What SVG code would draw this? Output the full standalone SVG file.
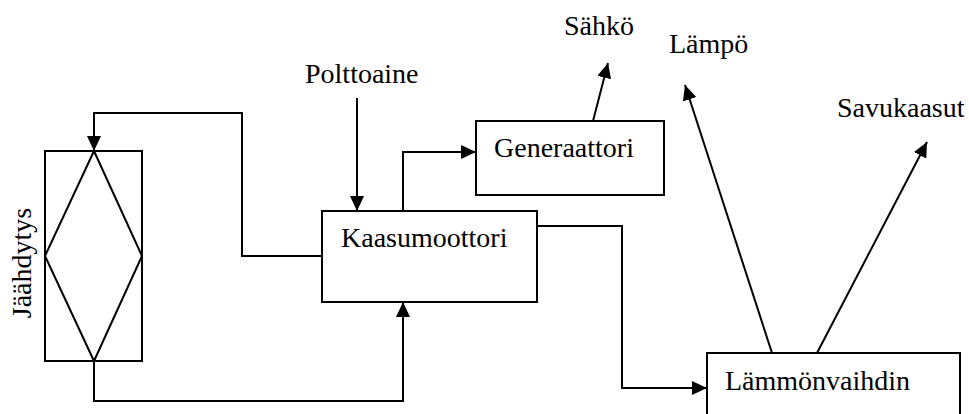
<svg xmlns="http://www.w3.org/2000/svg" width="969" height="414" viewBox="0 0 969 414">
<defs>
<style>
.box{fill:none;stroke:#000;stroke-width:2}
.ln{fill:none;stroke:#000;stroke-width:2}
.arr{marker-end:url(#ah)}
text{font-family:"Liberation Serif","Times New Roman",serif;font-size:28px;fill:#000}
</style>
<marker id="ah" markerUnits="userSpaceOnUse" markerWidth="15" markerHeight="14" refX="15" refY="7" orient="auto">
<path d="M0,0 L15,7 L0,14 z" fill="#000"/>
</marker>
</defs>
<rect width="969" height="414" fill="#fff"/>
<g id="jaahdytys">
<rect class="box" x="45" y="151" width="97" height="210"/>
<path class="ln" d="M94,151 L142,256 L94,361 L45,256 Z"/>
<text transform="translate(31,263) rotate(-90)" text-anchor="middle">Jäähdytys</text>
</g>
<g id="kaasumoottori">
<rect class="box" x="322" y="211" width="215" height="91"/>
<text x="341" y="247">Kaasumoottori</text>
</g>
<g id="generaattori">
<rect class="box" x="476" y="121" width="188" height="74"/>
<text x="494" y="157">Generaattori</text>
</g>
<g id="lammonvaihdin">
<rect class="box" x="707" y="353" width="253" height="80"/>
<text x="725" y="390">Lämmönvaihdin</text>
</g>
<g id="labels">
<text x="305" y="83">Polttoaine</text>
<text x="564" y="35">Sähkö</text>
<text x="669" y="53">Lämpö</text>
<text x="837" y="117">Savukaasut</text>
</g>
<g id="connectors">
<path class="ln arr" d="M357,98 L357,211"/>
<path class="ln arr" d="M403,211 L403,152 L476,152"/>
<path class="ln arr" d="M322,256 L242,256 L242,113 L94,113 L94,151"/>
<path class="ln arr" d="M94,361 L94,401 L403,401 L403,302"/>
<path class="ln arr" d="M537,226 L622,226 L622,388 L707,388"/>
<path class="ln arr" d="M593,121 L608,63"/>
<path class="ln arr" d="M772,353 L685,85"/>
<path class="ln arr" d="M817,353 L927,142"/>
</g>
</svg>
